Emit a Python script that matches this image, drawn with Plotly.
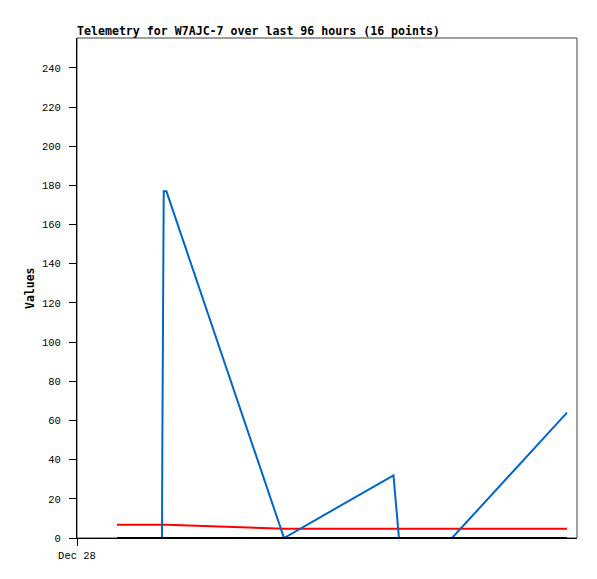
import plotly.graph_objects as go

# --- datos (16 puntos) ---
tiempos = [
    "2023-12-28 08:32", "2023-12-28 10:53", "2023-12-28 13:26", "2023-12-28 15:47",
    "2023-12-28 18:08", "2023-12-28 18:12", "2023-12-28 18:21", "2023-12-28 18:30",
    "2023-12-28 19:05", "2023-12-29 20:10", "2023-12-30 19:31", "2023-12-30 20:41",
    "2023-12-31 02:15", "2023-12-31 05:27", "2023-12-31 08:00", "2024-01-01 08:32",
]
serie_azul = [0, 0, 0, 0, 0, 44, 132, 177, 177, 0, 32, 0, 0, 0, 0, 64]
serie_roja = [6.8, 6.8, 6.8, 6.8, 6.8, 6.8, 6.8, 6.8, 6.8, 4.7, 4.7, 4.7, 4.7, 4.7, 4.7, 4.7]
serie_negra = [0] * 16

titulo = "Telemetry for W7AJC-7 over last 96 hours (16 points)"
y_ticks = [0, 20, 40, 60, 80, 100, 120, 140, 160, 180, 200, 220, 240]
x_tick = ["2023-12-28 00:00"]
x_tick_txt = ["Dec 28"]
x_rango = ["2023-12-28 00:00", "2024-01-01 10:40"]

FUENTE = "DejaVu Sans Mono"
FUENTE_TICKS = "Liberation Mono"
# la página deja 8px de margen en el body, así que el lienzo es 8px más chico
ANCHO, ALTO = 589, 571

fig = go.Figure()
fig.add_trace(go.Scatter(x=tiempos, y=serie_roja, mode="lines",
                         line=dict(color="#FF0000", width=2), showlegend=False))
fig.add_trace(go.Scatter(x=tiempos, y=serie_azul, mode="lines",
                         line=dict(color="#0066CC", width=2), showlegend=False))
fig.add_trace(go.Scatter(x=tiempos, y=serie_negra, mode="lines",
                         line=dict(color="#000000", width=2), showlegend=False))

# marco gris arriba/derecha
fig.add_shape(type="rect", xref="paper", yref="paper", x0=0, y0=0, x1=1, y1=1,
              line=dict(color="#404040", width=1), layer="below")

fig.update_layout(
    width=ANCHO, height=ALTO,
    paper_bgcolor="white", plot_bgcolor="white",
    margin=dict(l=69, r=20, t=30, b=41),
    font=dict(family=FUENTE, size=10.5, color="black"),
    title=dict(text=f"<b>{titulo}</b>", x=69 / ANCHO, xanchor="left",
               xref="container", y=1 - 23 / ALTO, yanchor="middle", yref="container",
               font=dict(family=FUENTE, size=11.6, color="black")),
    showlegend=False,
)
fig.update_xaxes(
    type="date", range=x_rango, tickvals=x_tick, ticktext=x_tick_txt,
    showgrid=False, zeroline=False, showline=True, linecolor="black", linewidth=1,
    ticks="outside", ticklen=7, tickcolor="black", tickwidth=1,
    tickfont=dict(family=FUENTE_TICKS, size=10.5, color="black"),
)
fig.update_yaxes(
    range=[0, 255.3], tickvals=y_ticks,
    showgrid=False, zeroline=False, showline=True, linecolor="black", linewidth=1,
    ticks="outside", ticklen=7, tickcolor="black", tickwidth=1,
    ticklabelstandoff=6,
    tickfont=dict(family=FUENTE_TICKS, size=10.5, color="black"),
)
fig.add_annotation(text="<b>Values</b>", textangle=-90, xref="paper", yref="paper",
                   x=-47 / 500, y=0.5, xanchor="center", yanchor="middle", showarrow=False,
                   font=dict(family=FUENTE, size=11.5, color="black"))

fig.write_html("out.html")
